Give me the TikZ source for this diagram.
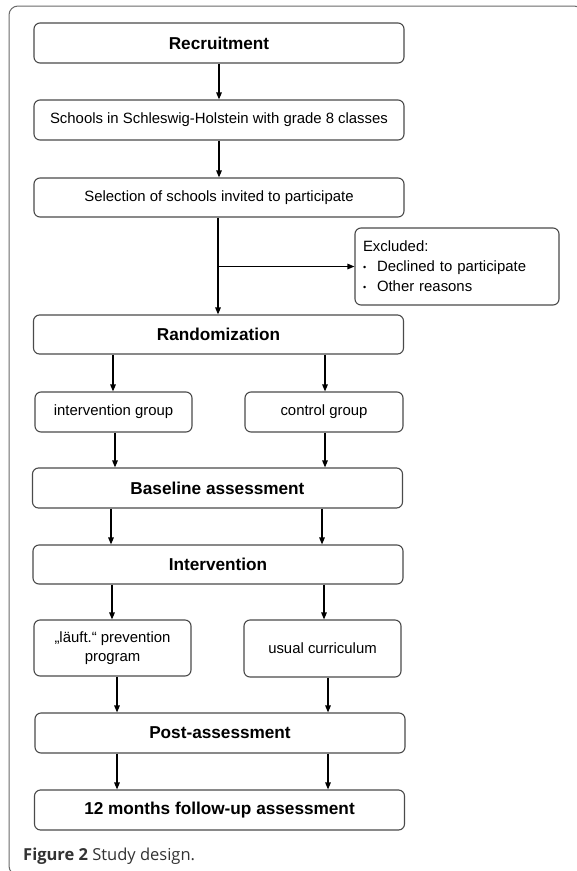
\documentclass[tikz,border=0pt]{standalone}
\usepackage{fontspec}
\setmainfont{Liberation Sans}
\newfontfamily\capfont{Open Sans}
\usetikzlibrary{arrows.meta}
\definecolor{boxline}{HTML}{4A4A4A}
\definecolor{framecol}{HTML}{6A6A6A}
\definecolor{captext}{HTML}{333333}
\tikzset{
  boxbase/.style={draw=boxline, line width=1.1pt, rounded corners=6pt, inner sep=0pt, align=center, text=black},
  bigbox/.style={boxbase, minimum width=370pt, minimum height=40pt, font=\fontsize{17.2}{20}\selectfont\bfseries},
  wbox/.style={boxbase, minimum width=370pt, minimum height=40pt, font=\fontsize{14.9}{18}\selectfont},
  smallbox/.style={boxbase, minimum width=157pt, minimum height=40pt, font=\fontsize{14.9}{19}\selectfont},
  arr/.style={line width=1.3pt, draw=black, -{Triangle[length=7pt,width=5.5pt]}}
}
\begin{document}
\begin{tikzpicture}[x=1pt,y=-1pt]
\useasboundingbox (0,0) rectangle (577,871);
\fill[white] (0,0) rectangle (577,871);
% outer frame
\draw[framecol, line width=1pt, rounded corners=9pt] (583,6) -- (9,6) -- (9,875) -- (583,875) -- cycle;

\node[bigbox] (rec) at (219,43) {Recruitment};
\node[wbox] (sch) at (219,120) {Schools in Schleswig-Holstein with grade 8 classes};
\node[wbox, minimum height=39pt] (sel) at (219,197.5) {Selection of schools invited to participate};
\node[boxbase, minimum width=204pt, minimum height=77pt, align=left, text width=188pt, inner xsep=8pt,
      font=\fontsize{14.9}{20}\selectfont] (exc) at (457,266.5)
  {Excluded:\\\makebox[14pt][l]{\raisebox{1pt}{\fontsize{9}{9}\selectfont•}}Declined to participate\\\makebox[14pt][l]{\raisebox{1pt}{\fontsize{9}{9}\selectfont•}}Other reasons};
\node[bigbox, minimum height=39pt] (rand) at (218.5,334.5) {Randomization};
\node[smallbox] (ig) at (113.5,412) {intervention group};
\node[smallbox, minimum width=158pt] (cg) at (324,412) {control group};
\node[bigbox] (base) at (217.5,488) {Baseline assessment};
\node[bigbox, minimum height=39pt] (intv) at (218,564.5) {Intervention};
\node[smallbox, minimum height=56pt] (lauf) at (112.5,648) {„läuft.“ prevention\\program};
\node[smallbox, minimum height=57pt] (usual) at (322.5,648.5) {usual curriculum};
\node[bigbox] (post) at (220,733) {Post-assessment};
\node[bigbox] (fu) at (219.5,810) {12 months follow-up assessment};

\node[anchor=west, inner sep=0pt, text=captext, font=\capfont\fontsize{16.5}{18}\selectfont] (cap) at (23,856)
  {\textbf{Figure 2} Study design.};

% connectors
\draw[arr] (rec.south -| 219,0) -- (sch.north -| 219,0);
\draw[arr] (sch.south -| 219,0) -- (sel.north -| 219,0);
\coordinate (split) at (sel.south |- exc.west);
\draw[arr] (sel.south -| 218,0) -- (rand.north -| 218,0);
\draw[arr] (split) -- (exc.west);

\draw[arr] (rand.south -| 113,0) -- (ig.north -| 113,0);
\draw[arr] (rand.south -| 325,0) -- (cg.north -| 325,0);
\draw[arr] (ig.south -| 115,0) -- (base.north -| 115,0);
\draw[arr] (cg.south -| 325,0) -- (base.north -| 325,0);
\draw[arr] (base.south -| 111,0) -- (intv.north -| 111,0);
\draw[arr] (base.south -| 322,0) -- (intv.north -| 322,0);
\draw[arr] (intv.south -| 112,0) -- (lauf.north -| 112,0);
\draw[arr] (intv.south -| 324,0) -- (usual.north -| 324,0);
\draw[arr] (lauf.south -| 117,0) -- (post.north -| 117,0);
\draw[arr] (usual.south -| 328,0) -- (post.north -| 328,0);
\draw[arr] (post.south -| 117,0) -- (fu.north -| 117,0);
\draw[arr] (post.south -| 328,0) -- (fu.north -| 328,0);
\end{tikzpicture}
\end{document}
